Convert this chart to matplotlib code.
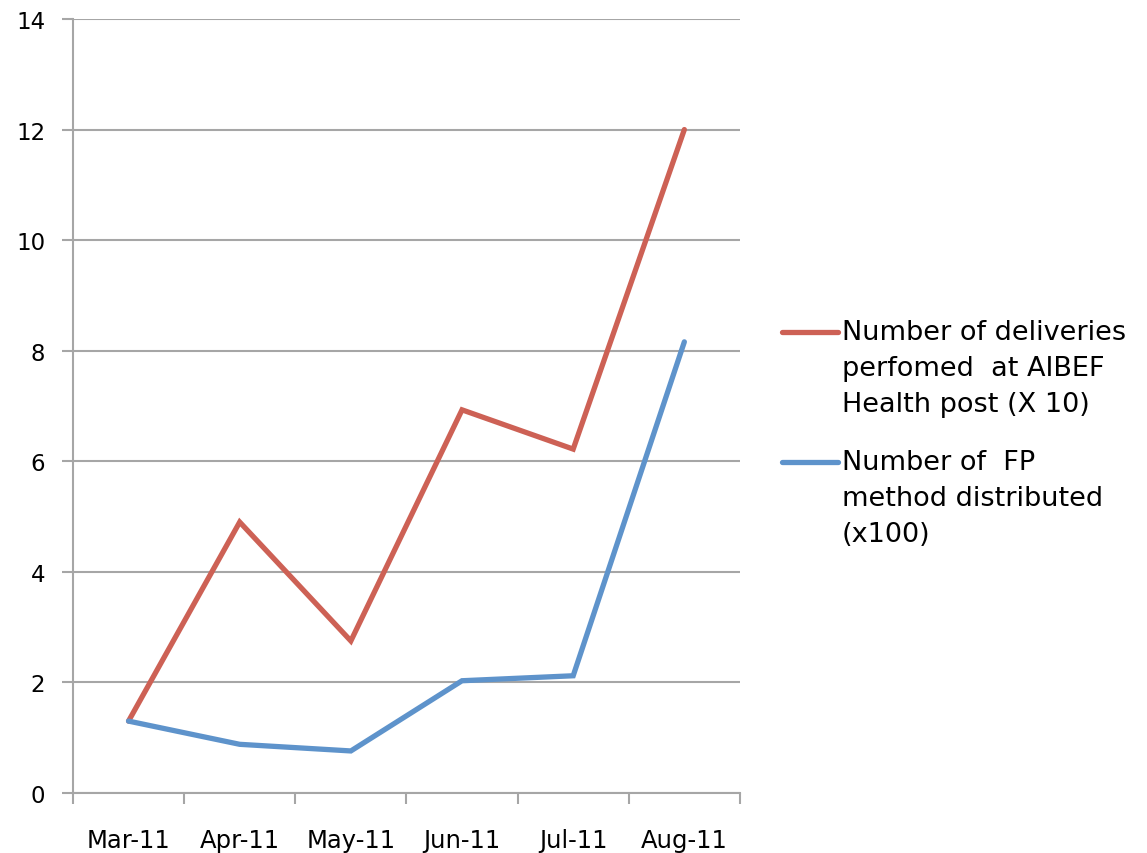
import matplotlib.pyplot as plt
from matplotlib.lines import Line2D

months = ['Mar-11', 'Apr-11', 'May-11', 'Jun-11', 'Jul-11', 'Aug-11']
deliveries_x10 = [1.3, 4.9, 2.75, 6.93, 6.22, 12.0]
fp_methods_x100 = [1.3, 0.88, 0.76, 2.03, 2.12, 8.16]

red = '#CD6155'
blue = '#5E93CB'
grid_col = '#A6A6A6'

plt.rcParams['font.family'] = ['DejaVu Sans']

fig = plt.figure(figsize=(11.47, 8.54), dpi=100)
ax = fig.add_axes([0.0636, 0.0703, 0.5815, 0.9063])

x = range(len(months))
ax.plot(x, deliveries_x10, color=red, lw=3.8, solid_capstyle='round', solid_joinstyle='miter', zorder=3)
ax.plot(x, fp_methods_x100, color=blue, lw=3.8, solid_capstyle='round', solid_joinstyle='miter', zorder=3)

ax.set_xlim(-0.5, len(months) - 0.5)
ax.set_ylim(0, 14)
ax.set_yticks(range(0, 15, 2))
ax.set_xticks(list(x))
ax.set_xticklabels(months, fontsize=17.5)
ax.set_xticks([i - 0.5 for i in range(len(months) + 1)], minor=True)
ax.tick_params(axis='x', which='major', length=0, pad=25)
ax.tick_params(axis='x', which='minor', length=8, width=1.5, color=grid_col, direction='out')
ax.tick_params(axis='y', length=8, width=1.5, color=grid_col, direction='out', labelsize=16.5, pad=12)

ax.grid(axis='y', color=grid_col, lw=1.5, zorder=1)
for s in ['top', 'right']:
    ax.spines[s].set_visible(False)
for s in ['left', 'bottom']:
    ax.spines[s].set_color(grid_col)
    ax.spines[s].set_linewidth(1.5)

# legend in Excel style: handle aligned with first text line
W, H = 1147, 854
entries = [
    (red, 'Number of deliveries\nperfomed  at AIBEF\nHealth post (X 10)', 333),
    (blue, 'Number of  FP\nmethod distributed\n(x100)', 463),
]
for col, label, ypx in entries:
    fig.add_artist(Line2D([782 / W, 838 / W], [1 - ypx / H, 1 - ypx / H],
                          color=col, lw=3.8, solid_capstyle='round'))
    fig.text(842 / W, 1 - (ypx - 13) / H, label, fontsize=19.5, va='top', ha='left',
             linespacing=1.5)

fig.savefig('out.png', dpi=100)
